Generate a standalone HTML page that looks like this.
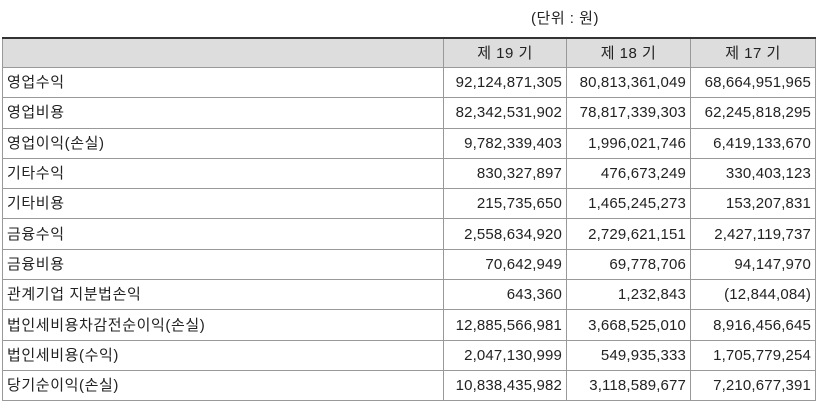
<!DOCTYPE html>
<html><head><meta charset="utf-8"><style>
body{margin:0;width:817px;height:404px;background:#fff;overflow:hidden;font-family:"Liberation Sans","Noto Sans CJK KR","NanumGothic",sans-serif;font-size:15px;color:#222}
.unit{position:absolute;left:520px;top:7px;width:90px;text-align:center;letter-spacing:0.5px}
table{position:absolute;left:2px;top:37px;border-collapse:collapse;table-layout:fixed;width:813px;border-top:2px solid #333;border-left:1px solid #333;border-right:1px solid #555;border-bottom:1px solid #555}
td{border:1px solid #999;height:29.3px;padding:0 4px;white-space:nowrap;line-height:15px;letter-spacing:0.15px}
td.k{letter-spacing:0.6px}
td.n{text-align:right}
tr.h td{background:#ddd;text-align:center;height:28px;letter-spacing:0.5px}
</style></head><body>
<div class="unit">(단위 : 원)</div>
<table>
<colgroup><col style="width:441px"><col style="width:123px"><col style="width:124px"><col style="width:125px"></colgroup>
<tr class="h"><td></td><td>제 19 기</td><td>제 18 기</td><td>제 17 기</td></tr>
<tr><td class="k">영업수익</td><td class="n">92,124,871,305</td><td class="n">80,813,361,049</td><td class="n">68,664,951,965</td></tr>
<tr><td class="k">영업비용</td><td class="n">82,342,531,902</td><td class="n">78,817,339,303</td><td class="n">62,245,818,295</td></tr>
<tr><td class="k">영업이익(손실)</td><td class="n">9,782,339,403</td><td class="n">1,996,021,746</td><td class="n">6,419,133,670</td></tr>
<tr><td class="k">기타수익</td><td class="n">830,327,897</td><td class="n">476,673,249</td><td class="n">330,403,123</td></tr>
<tr><td class="k">기타비용</td><td class="n">215,735,650</td><td class="n">1,465,245,273</td><td class="n">153,207,831</td></tr>
<tr><td class="k">금융수익</td><td class="n">2,558,634,920</td><td class="n">2,729,621,151</td><td class="n">2,427,119,737</td></tr>
<tr><td class="k">금융비용</td><td class="n">70,642,949</td><td class="n">69,778,706</td><td class="n">94,147,970</td></tr>
<tr><td class="k">관계기업 지분법손익</td><td class="n">643,360</td><td class="n">1,232,843</td><td class="n">(12,844,084)</td></tr>
<tr><td class="k">법인세비용차감전순이익(손실)</td><td class="n">12,885,566,981</td><td class="n">3,668,525,010</td><td class="n">8,916,456,645</td></tr>
<tr><td class="k">법인세비용(수익)</td><td class="n">2,047,130,999</td><td class="n">549,935,333</td><td class="n">1,705,779,254</td></tr>
<tr><td class="k">당기순이익(손실)</td><td class="n">10,838,435,982</td><td class="n">3,118,589,677</td><td class="n">7,210,677,391</td></tr>
</table>
</body></html>
